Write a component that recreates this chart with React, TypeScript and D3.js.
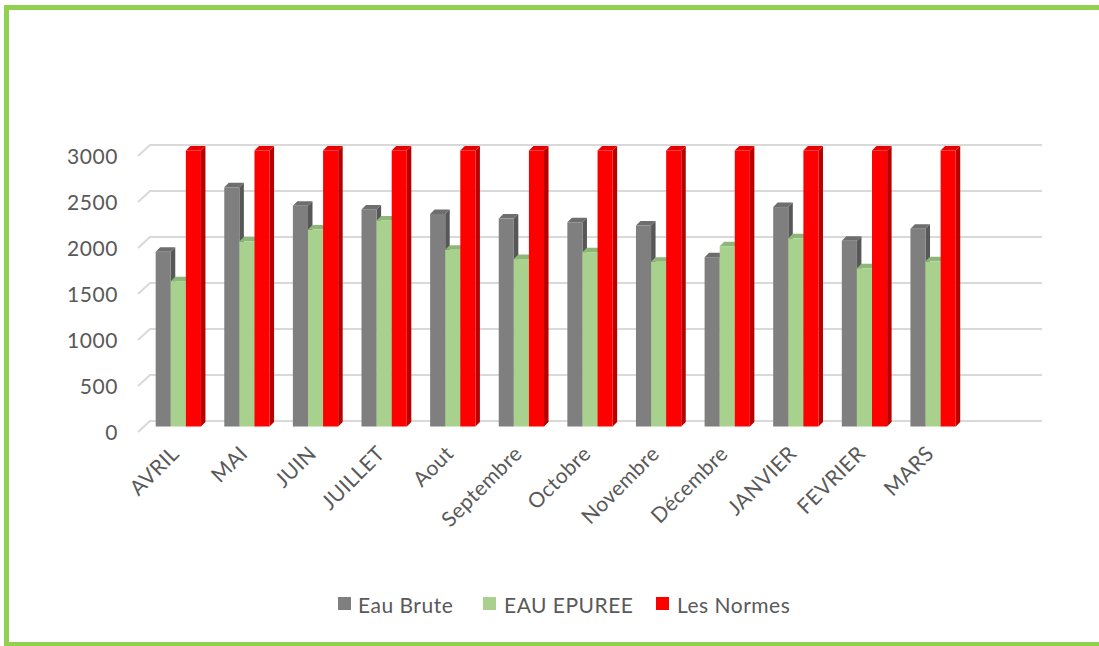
import React from "react";
import * as d3 from "d3";

const categories = ["AVRIL", "MAI", "JUIN", "JUILLET", "Aout", "Septembre", "Octobre", "Novembre", "Décembre", "JANVIER", "FEVRIER", "MARS"];
const eauBrute = [1900, 2600, 2400, 2360, 2310, 2260, 2220, 2185, 1840, 2385, 2020, 2150];
const eauEpuree = [1580, 2010, 2140, 2240, 1920, 1820, 1895, 1790, 1960, 2045, 1720, 1795];
const normes = [3000, 3000, 3000, 3000, 3000, 3000, 3000, 3000, 3000, 3000, 3000, 3000];
const yTicks = [0, 500, 1000, 1500, 2000, 2500, 3000];
const seriesNames = ["Eau Brute", "EAU EPUREE", "Les Normes"];

const W = 1099;
const H = 646;
const FONT = "Lato, 'Open Sans', sans-serif";
const TXT = "#595959";

const colors = [
  { front: "#7f7f7f", top: "#6e6e6e", side: "#575757" },
  { front: "#a9d18e", top: "#8cb776", side: "#7ea56a" },
  { front: "#ff0000", top: "#e60000", side: "#b80000" },
];

export default function App() {
  const backX0 = 150;
  const backX1 = 1042;
  const depthDx = -12;
  const depthDy = 11;
  const barDx = depthDx / 2;
  const barDy = depthDy / 2;
  const bdx = 4.5;
  const bdy = -4.5;

  const yBack = d3.scaleLinear().domain([0, 3000]).range([421, 145]);
  const xBand = d3
    .scaleBand<string>()
    .domain([...categories, "_"])
    .range([backX0 + barDx, backX1 + barDx])
    .padding(0);
  const bw = xBand.bandwidth();
  const groupW = bw * 0.66;
  const xSub = d3.scaleBand<string>().domain(seriesNames).range([0, groupW]);
  const sw = xSub.bandwidth();

  const data = [eauBrute, eauEpuree, normes];

  const bars: React.ReactNode[] = [];
  categories.forEach((c, i) => {
    const gx = (xBand(c) as number) + (bw - groupW) / 2;
    seriesNames.forEach((s, si) => {
      const v = data[si][i];
      const x0 = gx + (xSub(s) as number);
      const x1 = x0 + sw;
      const yTop = yBack(v) + barDy;
      const yBot = yBack(0) + barDy;
      const col = colors[si];
      bars.push(
        <g key={`${c}-${s}`}>
          <path
            d={`M${x1},${yTop} L${x1 + bdx},${yTop + bdy} L${x1 + bdx},${yBot + bdy} L${x1},${yBot} Z`}
            fill={col.side}
          />
          <path
            d={`M${x0},${yTop} L${x0 + bdx},${yTop + bdy} L${x1 + bdx},${yTop + bdy} L${x1},${yTop} Z`}
            fill={col.top}
          />
          <rect x={x0} y={yTop} width={sw} height={yBot - yTop} fill={col.front} />
        </g>
      );
    });
  });

  const legendItems = [
    { name: seriesNames[0], sx: 338, tx: 358 },
    { name: seriesNames[1], sx: 483, tx: 504 },
    { name: seriesNames[2], sx: 656, tx: 677 },
  ];

  return (
    <svg width={W} height={H} style={{ position: "absolute", left: 0, top: 0 }}>
      <rect x={0} y={0} width={W} height={H} fill="#fff" />
      {/* border */}
      <path d={`M${W + 5},7.5 L6.5,7.5 L6.5,644.5 L${W + 5},644.5`} fill="none" stroke="#92d050" strokeWidth={5} />
      {/* gridlines */}
      {yTicks.map((t) => {
        const y = yBack(t);
        return (
          <g key={t}>
            <path
              d={`M${backX0 + depthDx},${y + depthDy} L${backX0},${y} L${backX1},${y}`}
              fill="none"
              stroke="#d9d9d9"
              strokeWidth={2}
            />
            <text
              x={118}
              y={y + depthDy - 1}
              textAnchor="end"
              dominantBaseline="central"
              fontFamily={FONT}
              fontSize={21}
              letterSpacing={0.6}
              fill={TXT}
            >
              {t}
            </text>
          </g>
        );
      })}
      {bars}
      {/* x labels */}
      {categories.map((c) => {
        const cx = (xBand(c) as number) + bw / 2 + barDx + 2;
        const y = 449;
        return (
          <text
            key={c}
            transform={`translate(${cx},${y}) rotate(-45)`}
            textAnchor="end"
            dominantBaseline="central"
            fontFamily={FONT}
            fontSize={21}
            letterSpacing={0.4}
            fill={TXT}
          >
            {c}
          </text>
        );
      })}
      {/* legend */}
      {legendItems.map((l, i) => (
        <g key={l.name}>
          <rect x={l.sx} y={597} width={13} height={13} fill={colors[i].front} />
          <text x={l.tx} y={604} dominantBaseline="central" fontFamily={FONT} fontSize={21} letterSpacing={0.5} fill={TXT}>
            {l.name}
          </text>
        </g>
      ))}
    </svg>
  );
}
